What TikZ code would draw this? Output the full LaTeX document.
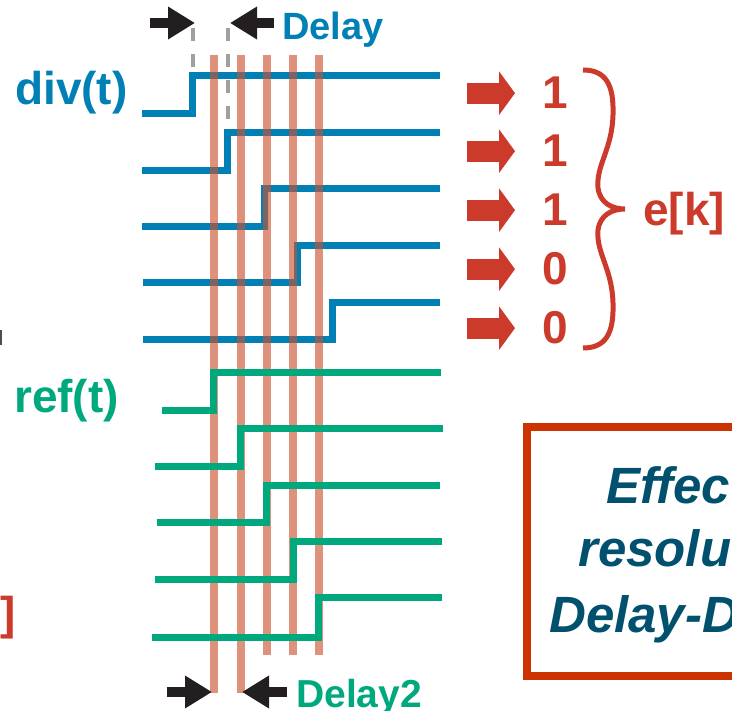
\documentclass[tikz,border=0pt]{standalone}
\usepackage{fontspec}
\setmainfont{Liberation Sans}
\usetikzlibrary{arrows.meta}
\definecolor{divblue}{RGB}{0,128,180}
\definecolor{refgreen}{RGB}{0,168,126}
\definecolor{tapred}{RGB}{202,83,47}
\definecolor{bitred}{RGB}{204,58,44}
\definecolor{boxred}{RGB}{204,51,0}
\definecolor{boxtext}{RGB}{0,80,110}
\definecolor{markgray}{RGB}{160,160,160}
\definecolor{markblack}{RGB}{35,31,32}
\newcommand{\bigfont}[1]{\bfseries\fontsize{#1}{#1}\selectfont}
\begin{document}
\begin{tikzpicture}[x=1pt, y=-1pt,
  every node/.append style={inner sep=0pt},
  sig/.style={line width=7pt},
  tap/.style={line width=8pt, tapred, opacity=0.63},
  gap/.style={line width=10pt, markblack, -{Triangle[length=27pt,width=31pt]}},
  bit/.style={line width=21pt, bitred, -{Triangle[length=16pt,width=43pt]}},
  gapdash/.style={line width=4pt, markgray, dash pattern=on 13pt off 13pt}]
  \useasboundingbox (0,0) rectangle (732,711);
  \clip (0,0) rectangle (732,711);
  % div(t) taps
  \foreach \hi/\lo/\rise/\start in {76/114/192/142, 133/171/227/142, 189/227/264/142, 246/283/297/143, 303/340/332/143}
    \draw[sig, divblue] (\start,\lo) -- (\rise,\lo) -- (\rise,\hi) -- (440,\hi);
  \draw[gapdash] (193,28) -- (193,72);
  \draw[gapdash] (228,28) -- (228,124);
  % sampling instants
  \foreach \x/\bot in {214/693, 241/693, 267/655, 293/655, 319/655}
    \draw[tap] (\x,55) -- (\x,\bot);
  % ref(t) taps
  \foreach \hi/\lo/\rise/\start/\stop in {373/411/213/162/441, 429/467/240/155/443, 486/523/266/157/440, 542/580/293/155/442, 598/637/318/152/442}
    \draw[sig, refgreen] (\start,\lo) -- (\rise,\lo) -- (\rise,\hi) -- (\stop,\hi);
  \draw[gap] (150,23) -- (195,23);
  \draw[gap] (274,23) -- (230,23);
  \draw[gap] (167,692) -- (212,692);
  \draw[gap] (287,692) -- (242,692);
  \node[anchor=base west, divblue, font=\bigfont{46}] (divlabel) at (15,105) {div(t)};
  \node[anchor=base west, refgreen, font=\bigfont{46}] (reflabel) at (14,413) {ref(t)};
  \node[anchor=base west, divblue, font=\bigfont{38}] (delaylabel) at (282,40) {Delay};
  \node[anchor=base west, refgreen, font=\bigfont{39}] (delaytwolabel) at (296,707) {Delay2};
  % thermometer code
  \foreach \v/\b [count=\i] in {1/109, 1/167, 1/226, 0/285, 0/344} {
    \node[anchor=base, bitred, font=\bigfont{46}] (bit\i) at (555,\b) {\v};
    \draw[bit] ([xshift=-75pt]bit\i.west) -- ([xshift=-27pt]bit\i.west);
  }
  \draw[bitred, line width=5pt] (583,70) .. controls (606,70) and (614,85) .. (613,115)
    .. controls (612,150) and (596,165) .. (598,188) .. controls (600,203) and (612,209) .. (625,209)
    .. controls (612,209) and (600,215) .. (598,230) .. controls (596,253) and (612,268) .. (613,303)
    .. controls (614,333) and (606,348) .. (583,348);
  \node[anchor=base west, bitred, font=\bigfont{46}] (eklabel) at (643,226) {e[k]};
  \node[anchor=base east, bitred, font=\bigfont{46}] (leftbracket) at (16,630) {]};
  \fill[markblack!80] (0,330) rectangle (2,345);
  % resolution box
  \draw[boxred, line width=8pt] (527,427) rectangle (770,676);
  \node[anchor=base west, boxtext, font=\bigfont{51}\itshape] (boxone) at (606,504) {Effec};
  \node[anchor=base west, boxtext, font=\bigfont{51}\itshape] (boxtwo) at (578,567) {resolu};
  \node[anchor=base west, boxtext, font=\bigfont{51}\itshape] (boxthree) at (549,632) {Delay-D};
\end{tikzpicture}
\end{document}
